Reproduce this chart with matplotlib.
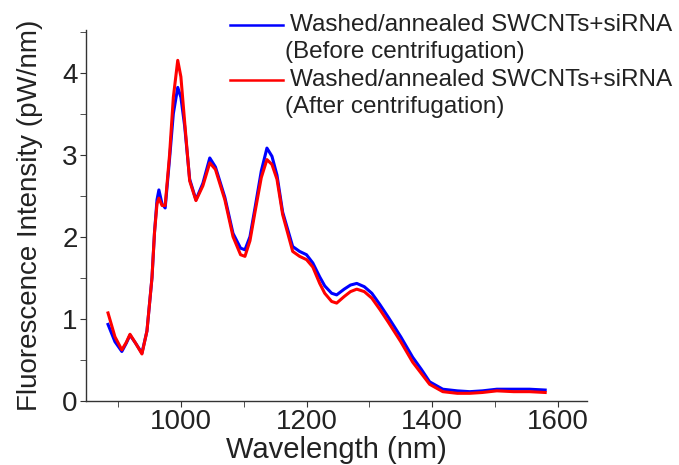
import matplotlib
matplotlib.use("Agg")
import matplotlib.pyplot as plt
from matplotlib.lines import Line2D
from matplotlib.ticker import MultipleLocator

plt.rcParams["font.family"] = ["Liberation Sans", "DejaVu Sans"]

# values
wavelength = [884, 895, 906, 913, 919, 928, 938, 946, 954, 958, 962, 965, 970, 975,
              982, 988, 995, 1000, 1006, 1014, 1024, 1035, 1046, 1055, 1070, 1083,
              1095, 1102, 1110, 1118, 1128, 1137, 1145, 1153, 1162, 1178, 1189, 1200,
              1210, 1221, 1229, 1240, 1248, 1260, 1270, 1280, 1292, 1304, 1317, 1330,
              1350, 1369, 1383, 1396, 1417, 1440, 1460, 1480, 1503, 1530, 1555, 1580]

before = [0.93, 0.72, 0.60, 0.70, 0.80, 0.70, 0.58, 0.85, 1.50, 2.05, 2.45, 2.57, 2.40, 2.35,
          2.95, 3.50, 3.82, 3.70, 3.35, 2.70, 2.45, 2.65, 2.96, 2.85, 2.48, 2.04,
          1.86, 1.84, 2.00, 2.35, 2.80, 3.08, 2.98, 2.75, 2.30, 1.88, 1.82, 1.78,
          1.68, 1.51, 1.40, 1.31, 1.29, 1.36, 1.41, 1.43, 1.39, 1.31, 1.17, 1.02,
          0.78, 0.53, 0.38, 0.23, 0.14, 0.12, 0.11, 0.12, 0.14, 0.14, 0.14, 0.13]

after = [1.07, 0.78, 0.62, 0.71, 0.81, 0.70, 0.57, 0.85, 1.50, 2.05, 2.40, 2.47, 2.38, 2.38,
         3.00, 3.70, 4.15, 3.95, 3.40, 2.68, 2.44, 2.62, 2.90, 2.82, 2.45, 2.00,
         1.78, 1.76, 1.95, 2.30, 2.72, 2.94, 2.88, 2.70, 2.27, 1.82, 1.76, 1.72,
         1.63, 1.43, 1.31, 1.21, 1.19, 1.27, 1.33, 1.36, 1.33, 1.25, 1.11, 0.96,
         0.72, 0.47, 0.33, 0.20, 0.11, 0.09, 0.09, 0.10, 0.12, 0.11, 0.11, 0.10]

labels = ["Washed/annealed SWCNTs+siRNA", "Washed/annealed SWCNTs+siRNA"]
sublabels = ["(Before centrifugation)", "(After centrifugation)"]
colors = ["#0000ff", "#ff0000"]

fig = plt.figure(figsize=(6.79, 4.65), dpi=100)
ax = fig.add_axes([0.1267, 0.1383, 0.7373, 0.7972])

ax.plot(wavelength, before, color=colors[0], lw=2.2)
ax.plot(wavelength, after, color=colors[1], lw=2.2)

ax.set_xlim(849, 1646)
ax.set_ylim(0, 4.52)
ax.xaxis.set_major_locator(MultipleLocator(200))
ax.xaxis.set_minor_locator(MultipleLocator(100))
ax.yaxis.set_major_locator(MultipleLocator(1))
ax.yaxis.set_minor_locator(MultipleLocator(0.5))

for side in ["top", "right"]:
    ax.spines[side].set_visible(False)
for side in ["left", "bottom"]:
    ax.spines[side].set_color("#333333")
    ax.spines[side].set_linewidth(1.0)

ax.tick_params(which="both", direction="out", color="#333333", labelsize=20,
               labelcolor="#222222", pad=2, length=4)

ax.set_xlabel("Wavelength (nm)", fontsize=21, color="#222222", labelpad=1)
ax.set_ylabel("Fluorescence Intensity (pW/nm)", fontsize=20, color="#222222", labelpad=14)

# hand-placed legend (handle level with the first text line)
W, H = 679.0, 465.0
rows = [25, 80]
for c, lab, sub, ry in zip(colors, labels, sublabels, rows):
    fig.add_artist(Line2D([230 / W, 283 / W], [1 - ry / H, 1 - ry / H], color=c, lw=1.8))
    fig.text(290 / W, 1 - ry / H, lab, fontsize=17.5, color="#222222", va="center", ha="left")
    fig.text(285 / W, 1 - (ry + 27) / H, sub, fontsize=17.5, color="#222222", va="center", ha="left")

fig.savefig("out.png", dpi=100)
